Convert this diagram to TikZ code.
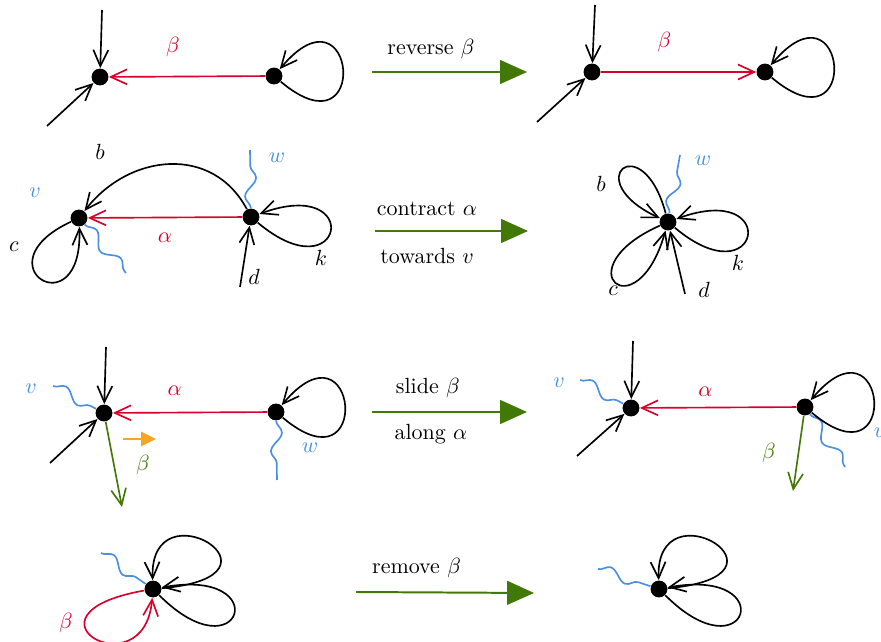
\documentclass[tikz,border=0pt]{standalone}
\usepackage{amsmath}
\definecolor{dgred}{RGB}{214,0,42}
\definecolor{dgblue}{RGB}{74,144,226}
\definecolor{dggreen}{RGB}{66,120,6}
\definecolor{dgorange}{RGB}{245,166,35}
\usetikzlibrary{arrows.meta,positioning,decorations.pathmorphing}

\begin{document}
\begin{tikzpicture}[x=0.016cm,y=0.016cm,
  vtx/.style={circle,fill=black,inner sep=0pt,minimum size=0.27cm},
  edge/.style={line width=0.75pt,-{Straight Barb[length=2.6mm,width=2.4mm]}},
  redge/.style={edge,dgred},
  gedge/.style={edge,dggreen},
  wig/.style={dgblue,line width=0.75pt,decorate,
    decoration={snake,amplitude=0.9mm,segment length=6mm}},
  move/.style={dggreen,line width=0.9pt,-{Triangle[length=4.3mm,width=3.8mm]}},
  toploop/.style={out=-40,in=50,distance=1.9cm},
  sideloop/.style={out=-40,in=20,distance=1.8cm}]
  \useasboundingbox (0,0) rectangle (881,-642);

  % reverse beta: before
  \node[vtx] (p1) at (100,-77) {};
  \node[vtx] (q1) at (274,-76) {};
  \coordinate (p1t) at (102,-10);
  \coordinate (p1l) at (47,-126);
  \draw[edge] (p1t) -- (p1);
  \draw[edge] (p1l) -- (p1);
  \draw[redge] (q1) -- node[pos=0.59,above=5.5pt,dgred] (b1) {$\beta$} (p1);
  \draw[edge] (q1) to[toploop] (q1);
  % reverse beta: arrow
  \coordinate (m1s) at (372,-72);
  \coordinate (m1e) at (527,-72);
  \draw[move] (m1s) -- node[pos=0.38,above=2.3pt,black] (t1) {reverse $\beta$} (m1e);
  % reverse beta: after
  \node[vtx] (p2) at (592,-72) {};
  \node[vtx] (q2) at (765,-72) {};
  \coordinate (p2t) at (595,-5);
  \coordinate (p2l) at (537,-122);
  \draw[edge] (p2t) -- (p2);
  \draw[edge] (p2l) -- (p2);
  \draw[redge] (p2) -- node[pos=0.41,above=5.5pt,dgred] (b2) {$\beta$} (q2);
  \draw[edge] (q2) to[toploop] (q2);

  % contract alpha: before
  \node[vtx] (v2) at (79,-218) {};
  \node[vtx] (w2) at (251,-217) {};
  \coordinate (v2s) at (126,-273);
  \coordinate (w2s) at (250,-150);
  \coordinate (d2) at (240,-287);
  \draw[wig] (v2) -- (v2s);
  \draw[wig] (w2) -- (w2s);
  \draw[redge] (w2) -- node[pos=0.5,below=3.4pt,dgred] (a2) {$\alpha$} (v2);
  \draw[edge] (w2) to[out=118,in=52,looseness=1.15] (v2);
  \draw[edge] (v2) to[out=205,in=-88,distance=1.65cm] (v2);
  \draw[edge] (d2) -- (w2);
  \draw[edge] (w2) to[sideloop] (w2);
  \node[dgblue] (lv2) at (35,-193) {$v$};
  \node[dgblue] (lw2) at (277,-158) {$w$};
  \node (lb2) at (100,-152) {$b$};
  \node (lc2) at (14,-247) {$c$};
  \node (ld2) at (254,-277) {$d$};
  \node (lk2) at (321,-258) {$k$};
  % contract alpha: arrow
  \coordinate (m2s) at (375,-231);
  \coordinate (m2e) at (528,-231);
  \draw[move] (m2s) -- node[pos=0.34,above=3pt,black] (t2a) {contract $\alpha$}
    node[pos=0.34,below=4pt,black] (t2b) {towards $v$} (m2e);
  % contract alpha: after
  \node[vtx] (x2) at (668,-222) {};
  \coordinate (x2s) at (680,-155);
  \coordinate (x2d) at (685,-294);
  \draw[wig] (x2) -- (x2s);
  \draw[edge] (x2) to[out=105,in=155,distance=1.45cm] (x2);
  \draw[edge] (x2) to[out=204,in=-106,distance=1.7cm] (x2);
  \draw[edge] (x2d) -- (x2);
  \draw[edge] (x2) to[sideloop] (x2);
  \node[dgblue] (lw3) at (703,-161) {$w$};
  \node (lb3) at (601,-184) {$b$};
  \node (lc3) at (613,-291) {$c$};
  \node (ld3) at (704,-290) {$d$};
  \node (lk3) at (738,-263) {$k$};

  % slide beta: before
  \node[vtx] (v3) at (104,-413) {};
  \node[vtx] (w3) at (276,-412) {};
  \coordinate (v3t) at (106,-347);
  \coordinate (v3l) at (50,-463);
  \coordinate (v3s) at (53,-386);
  \coordinate (w3s) at (277,-480);
  \coordinate (g3) at (122,-507);
  \draw[wig] (v3s) -- (v3);
  \draw[wig] (w3) -- (w3s);
  \draw[edge] (v3t) -- (v3);
  \draw[edge] (v3l) -- (v3);
  \draw[redge] (w3) -- node[pos=0.6,above=4pt,dgred] (a3) {$\alpha$} (v3);
  \draw[edge] (w3) to[toploop] (w3);
  \draw[gedge] (v3) -- (g3);
  \coordinate (o3s) at (123,-439);
  \coordinate (o3e) at (156,-439);
  \draw[dgorange,line width=1pt,-{Triangle[length=2.4mm,width=2.3mm]}] (o3s) -- (o3e);
  \node[dgblue] (lv4) at (31,-389) {$v$};
  \node[dgblue] (lw4) at (310,-448) {$w$};
  \node[dggreen] (lg3) at (143,-465) {$\beta$};
  % slide beta: arrow
  \coordinate (m3s) at (372,-412);
  \coordinate (m3e) at (527,-412);
  \draw[move] (m3s) -- node[pos=0.36,above=2.8pt,black] (t3a) {slide $\beta$}
    node[pos=0.38,below=2pt,black] (t3b) {along $\alpha$} (m3e);
  % slide beta: after
  \node[vtx] (v4) at (631,-408) {};
  \node[vtx] (w4) at (805,-407) {};
  \coordinate (v4t) at (633,-341);
  \coordinate (v4l) at (577,-456);
  \coordinate (v4s) at (580,-380);
  \coordinate (w4s) at (845,-467);
  \coordinate (g4) at (793,-491);
  \draw[wig] (v4s) -- (v4);
  \draw[wig] (w4) -- (w4s);
  \draw[edge] (v4t) -- (v4);
  \draw[edge] (v4l) -- (v4);
  \draw[redge] (w4) -- node[pos=0.58,above=1.5pt,dgred] (a4) {$\alpha$} (v4);
  \draw[edge] (w4) to[toploop] (w4);
  \draw[gedge] (w4) -- (g4);
  \node[dgblue] (lv5) at (559,-383) {$v$};
  \node[dgblue] (lw5) at (882,-433) {$w$};
  \node[dggreen] (lg4) at (769,-453) {$\beta$};

  % remove beta: before
  \node[vtx] (y5) at (153,-589) {};
  \coordinate (y5s) at (101,-553);
  \draw[wig] (y5s) -- (y5);
  \draw[edge] (y5) to[out=5,in=92,out distance=2.25cm,in distance=1.55cm] (y5);
  \draw[edge] (y5) to[out=-45,in=10,distance=1.85cm] (y5);
  \draw[redge] (y5) to[out=190,in=-95,out distance=2.2cm,in distance=1.5cm] (y5);
  \node[dgred] (lr5) at (66,-623) {$\beta$};
  % remove beta: arrow
  \coordinate (m4s) at (356,-592);
  \coordinate (m4e) at (534,-593);
  \draw[move] (m4s) -- node[pos=0.34,above=2.8pt,black] (t4) {remove $\beta$} (m4e);
  % remove beta: after
  \node[vtx] (z5) at (659,-589) {};
  \coordinate (z5s) at (598,-569);
  \draw[wig] (z5s) -- (z5);
  \draw[edge] (z5) to[out=5,in=92,out distance=2.25cm,in distance=1.55cm] (z5);
  \draw[edge] (z5) to[out=-45,in=10,distance=1.85cm] (z5);
\end{tikzpicture}
\end{document}
